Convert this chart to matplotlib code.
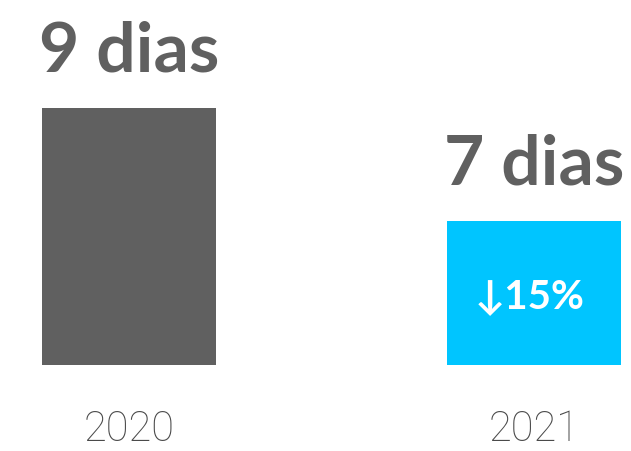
import matplotlib
matplotlib.use("Agg")
import matplotlib.pyplot as plt
import matplotlib.transforms as mtransforms

# Average resolution time per year
years = ["2020", "2021"]
days = [9, 7]
value_labels = ["9 dias", "7 dias"]
change_label = "\u219315%"
colors = ["#606060", "#00C5FF"]

base = 4.45  # bars start here, not at zero

fig = plt.figure(figsize=(6.31, 4.51), dpi=100)
ax = fig.add_axes([0, 0, 1, 1])
ax.set_xlim(-0.3197, 1.244)
ax.set_ylim(2.93, 10.91)
ax.axis("off")

x = [0, 1.0037]
bars = ax.bar(x, [d - base for d in days], bottom=base, width=0.43,
              color=colors)

for xi, d, lab in zip(x, days, value_labels):
    ax.annotate(lab, (xi, d), xytext=(0, 26), textcoords="offset points",
                ha="center", va="baseline", fontsize=50, color="#606060",
                fontweight="bold", family=["Lato", "DejaVu Sans"])

trans = mtransforms.blended_transform_factory(ax.transData, ax.transAxes)
for xi, yr in zip(x, years):
    ax.text(xi, 0.022, yr, transform=trans, ha="center", va="baseline",
            fontsize=30, color="#4a4a4a", fontweight="light",
            family=["Roboto", "DejaVu Sans"])

ax.text(x[1] - 0.01, (days[1] + base) / 2 - 0.06, change_label, ha="center",
        va="center", fontsize=29, color="white", fontweight="bold",
        family=["Lato", "DejaVu Sans"])

fig.savefig("out.png", dpi=100)
